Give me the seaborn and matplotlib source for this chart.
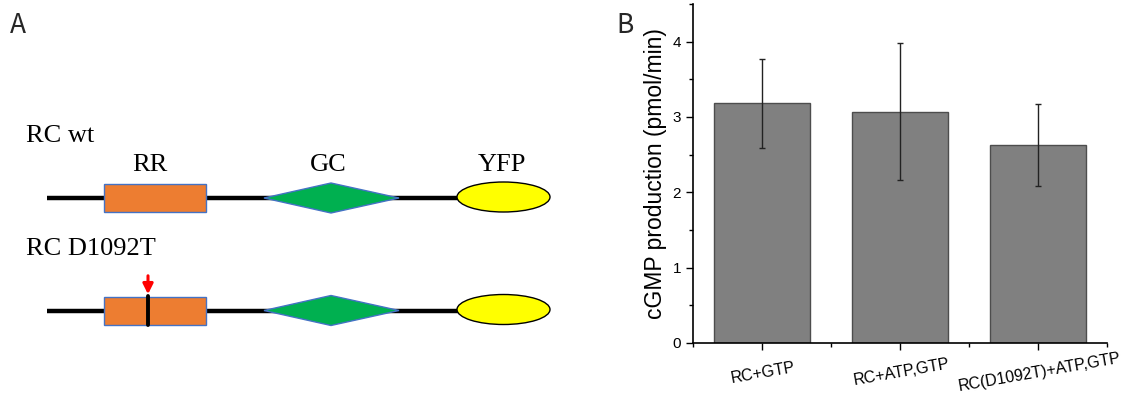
import numpy as np
import pandas as pd
import matplotlib
matplotlib.use("Agg")
import matplotlib.pyplot as plt
import matplotlib.patches as mpatches
from matplotlib.ticker import MultipleLocator, FixedLocator
import seaborn as sns

# ---------------- data ----------------
conditions = ["RC+GTP", "RC+ATP,GTP", "RC(D1092T)+ATP,GTP"]
cgmp_mean = [3.18, 3.07, 2.63]
cgmp_err = [0.59, 0.91, 0.54]
y_label = "cGMP production (pmol/min)"

constructs = ["RC wt", "RC D1092T"]
domains = ["RR", "GC", "YFP"]
domain_colors = ["#ED7D31", "#00B050", "#FFFF00"]
panel_labels = ["A", "B"]

sns.set_theme(style="white")
plt.rcParams["font.family"] = ["Liberation Sans", "DejaVu Sans"]

W, H = 1132, 394
fig = plt.figure(figsize=(W / 100, H / 100), dpi=100)

# ---------------- panel A: domain diagram (pixel coords) ----------------
axA = fig.add_axes([0, 0, 600 / W, 1])
axA.set_xlim(0, 600)
axA.set_ylim(H, 0)
axA.axis("off")

serif = ["Liberation Serif", "DejaVu Serif"]
row_y = [198, 310.5]
for i, yc in enumerate(row_y):
    axA.plot([47, 460], [yc, yc], color="black", lw=3.2, solid_capstyle="butt", zorder=1)
    axA.add_patch(mpatches.Rectangle((104, yc - 14), 102, 28, facecolor=domain_colors[0],
                                     edgecolor="#4472C4", lw=1.0, zorder=2))
    axA.add_patch(mpatches.Polygon([(264, yc), (331, yc - 15), (399, yc), (331, yc + 15)],
                                   closed=True, facecolor=domain_colors[1],
                                   edgecolor="#4472C4", lw=1.0, zorder=2))
    axA.add_patch(mpatches.Ellipse((503.5, yc - 1), 93, 30, facecolor=domain_colors[2],
                                   edgecolor="black", lw=1.0, zorder=2))
    axA.text(26, yc - 56, constructs[i], family=serif, fontsize=19,
             ha="left", va="baseline", color="black")

for name, xc in zip(domains, [150, 328, 502]):
    axA.text(xc, 170.5, name, family=serif, fontsize=19, ha="center",
             va="baseline", color="black")

axA.plot([148, 148], [296, 325], color="black", lw=2.8, zorder=3)
axA.annotate("", xy=(148, 297), xytext=(148, 273),
             arrowprops=dict(arrowstyle="-|>,head_width=0.25,head_length=0.5",
                             color="#FF0000", lw=2.2), zorder=4)

fig.text(10 / W, 1 - 33 / H, panel_labels[0], fontsize=19,
         family=["Noto Sans CJK SC", "DejaVu Sans"], ha="left", va="baseline")
fig.text(616 / W, 1 - 33 / H, panel_labels[1], fontsize=19,
         family=["Noto Sans CJK SC", "DejaVu Sans"], ha="left", va="baseline")

# ---------------- panel B: bar chart ----------------
left, right, bottom, top = 693, 1107, 343, 4
axB = fig.add_axes([left / W, 1 - bottom / H, (right - left) / W, (bottom - top) / H])
df = pd.DataFrame({"condition": conditions, "cgmp": cgmp_mean, "err": cgmp_err})
sns.barplot(data=df, x="condition", y="cgmp", ax=axB, color="#808080", saturation=1,
            width=0.7, edgecolor="#4d4d4d", linewidth=1.0, errorbar=None)
axB.errorbar(np.arange(len(conditions)), df["cgmp"], yerr=df["err"], fmt="none",
             ecolor="#222222", elinewidth=1.0, capsize=2.5, capthick=1.0, zorder=5)

axB.set_xlim(-0.5, 2.5)
axB.set_ylim(0, 4.5)
axB.yaxis.set_major_locator(MultipleLocator(1))
axB.yaxis.set_minor_locator(MultipleLocator(0.5))
axB.xaxis.set_minor_locator(FixedLocator([-0.5, 0.5, 1.5, 2.5]))
for s in ["top", "right"]:
    axB.spines[s].set_visible(False)
for s in ["left", "bottom"]:
    axB.spines[s].set_color("black")
    axB.spines[s].set_linewidth(1.2)
axB.tick_params(axis="both", which="major", direction="out", length=5, width=1.0,
                color="black", labelsize=11, labelcolor="black", bottom=True, left=True)
axB.tick_params(axis="x", which="major", labelsize=11.5)
axB.tick_params(axis="both", which="minor", direction="out", length=3, width=1.0,
                color="black", bottom=True, left=True)
axB.tick_params(axis="x", which="major", pad=11)
axB.set_xlabel("")
axB.set_ylabel(y_label, fontsize=16.5, color="black", labelpad=4)
for lab in axB.get_xticklabels():
    lab.set_rotation(10)
    lab.set_ha("center")
    lab.set_rotation_mode("anchor")

fig.savefig("out.png", dpi=100, facecolor="white")
